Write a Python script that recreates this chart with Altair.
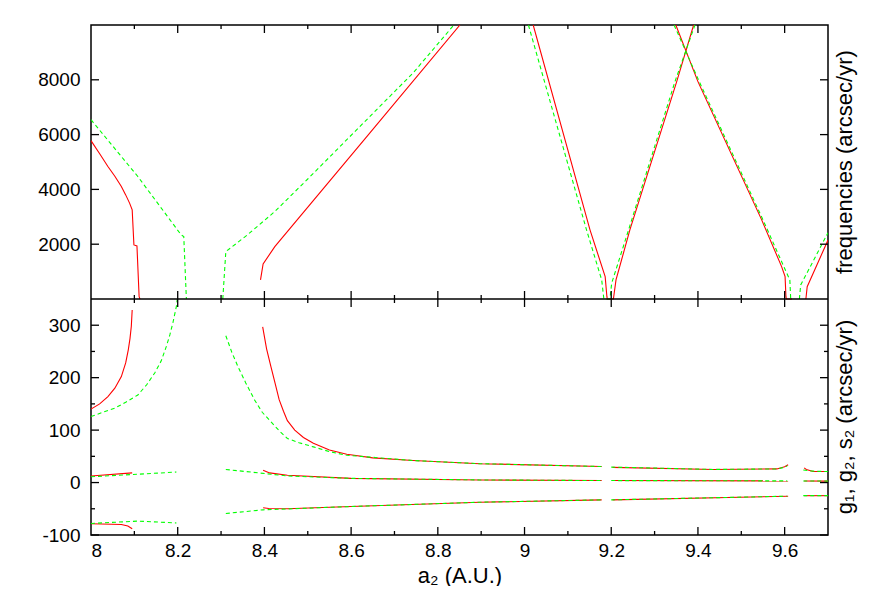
import altair as alt
import pandas as pd

# ---------------- layout constants ----------------
W = 737
H_TOP = 274
H_BOT = 236
H = H_TOP + H_BOT
FONT = "Liberation Sans"
FS = 19
FS_TITLE = 22

# ---------------- axes ----------------
X_DOMAIN = [8.0, 9.7]
TOP_Y_DOMAIN = [0, 10000]
BOT_Y_DOMAIN = [-100, 350]
X_MAJOR = [8.0, 8.2, 8.4, 8.6, 8.8, 9.0, 9.2, 9.4, 9.6]
X_MINOR = [8.1, 8.3, 8.5, 8.7, 8.9, 9.1, 9.3, 9.5]
TOP_Y_MAJOR = [2000, 4000, 6000, 8000]
BOT_Y_MAJOR = [-100, 0, 100, 200, 300]
BOT_Y_MINOR = [-50, 50, 150, 250]

X_TITLE = "a\u2082 (A.U.)"
TOP_TITLE = "frequencies (arcsec/yr)"
BOT_TITLE = "g\u2081, g\u2082, s\u2082 (arcsec/yr)"

# ---------------- top panel data (frequencies) ----------------
top_red_a_x = [8.0, 8.02, 8.039, 8.055, 8.07, 8.08, 8.089, 8.095, 8.099, 8.106, 8.111, 8.113]
top_red_a_y = [5780, 5300, 4837, 4480, 4106, 3800, 3499, 3254, 1974, 1938, 84, 0]
top_red_b_x = [8.391, 8.397, 8.424, 8.64, 8.851]
top_red_b_y = [695, 1280, 1912, 6000, 10000]
top_red_v_x = [9.02, 9.151, 9.186, 9.19, 9.191, 9.205, 9.211, 9.243, 9.351, 9.39]
top_red_v_y = [10000, 2523, 816, 84, 0, 0, 695, 2523, 7934, 10000]
top_red_d_x = [9.349, 9.4, 9.547, 9.593, 9.601, 9.603, 9.604, 9.617]
top_red_d_y = [10000, 7934, 2888, 1182, 816, 84, 0, 0]
top_red_r_x = [9.649, 9.652, 9.70]
top_red_r_y = [0, 450, 2150]

top_green_a_x = [8.0, 8.108, 8.208, 8.214, 8.22]
top_green_a_y = [6544, 4471, 2340, 2278, 0]
top_green_b_x = [8.304, 8.311, 8.36, 8.424, 8.5, 8.59, 8.743, 8.837]
top_green_b_y = [0, 1730, 2330, 3192, 4380, 5813, 8251, 10000]
top_green_v_x = [9.009, 9.143, 9.178, 9.183, 9.197, 9.201, 9.24, 9.347, 9.393]
top_green_v_y = [10000, 2523, 695, 0, 0, 573, 2523, 7934, 10000]
top_green_d_x = [9.345, 9.403, 9.55, 9.605, 9.612, 9.614]
top_green_d_y = [10000, 7934, 2888, 938, 695, 0]
top_green_r_x = [9.634, 9.637, 9.70]
top_green_r_y = [0, 512, 2420]

# ---------------- bottom panel data (g1, g2, s2) ----------------
bot_red_u1_x = [8.0, 8.02, 8.039, 8.055, 8.07, 8.08, 8.086, 8.09, 8.093, 8.095]
bot_red_u1_y = [140, 150, 164, 180, 202, 228, 253, 275, 298, 329]
bot_red_u2_x = [8.396, 8.405, 8.415, 8.425, 8.434, 8.444, 8.453, 8.47, 8.49, 8.513,
                8.55, 8.59, 8.65, 8.743, 8.897, 9.178]
bot_red_u2_y = [297, 255, 221, 188, 158, 136, 118, 100, 86, 75, 62, 54, 47, 42, 36, 30.5]
bot_red_u3_x = [9.203, 9.436, 9.582, 9.60, 9.608]
bot_red_u3_y = [29, 25, 26, 30, 34]
bot_red_u4_x = [9.645, 9.65, 9.666, 9.70]
bot_red_u4_y = [28, 25, 21, 21]
bot_red_m1_x = [8.0, 8.095]
bot_red_m1_y = [12.6, 18.4]
bot_red_m2_x = [8.397, 8.412, 8.453, 8.6, 8.897, 9.178]
bot_red_m2_y = [23.5, 18.4, 14, 8, 5, 3.8]
bot_red_m3_x = [9.203, 9.608]
bot_red_m3_y = [3.8, 3.2]
bot_red_m4_x = [9.645, 9.70]
bot_red_m4_y = [3.0, 2.8]
bot_red_l1_x = [8.0, 8.07, 8.085, 8.095]
bot_red_l1_y = [-78.5, -80, -83, -88]
bot_red_l2_x = [8.397, 8.41, 8.453, 8.6, 8.897, 9.178]
bot_red_l2_y = [-48, -49.5, -50, -45.7, -37.5, -33]
bot_red_l3_x = [9.203, 9.608]
bot_red_l3_y = [-33, -26]
bot_red_l4_x = [9.645, 9.70]
bot_red_l4_y = [-25, -25]

bot_green_u1_x = [8.0, 8.055, 8.08, 8.108, 8.128, 8.147, 8.162, 8.174, 8.182, 8.189, 8.197, 8.199]
bot_green_u1_y = [126, 142, 153, 167, 186, 209, 232, 260, 282, 305, 336, 350]
bot_green_u2_x = [8.311, 8.325, 8.339, 8.357, 8.377, 8.395, 8.415, 8.435, 8.453, 8.48,
                  8.513, 8.55, 8.59, 8.743, 8.897, 9.178]
bot_green_u2_y = [280, 248, 221, 190, 158, 134, 116, 98, 84, 76, 68, 59, 52, 42, 36, 30.5]
bot_green_u3_x = [9.2, 9.436, 9.582, 9.6, 9.606]
bot_green_u3_y = [29.5, 25, 26, 29, 32]
bot_green_u4_x = [9.643, 9.66, 9.70]
bot_green_u4_y = [24, 22, 21]
bot_green_m1_x = [8.0, 8.197]
bot_green_m1_y = [11, 20]
bot_green_m2_x = [8.311, 8.453, 8.6, 8.897, 9.178]
bot_green_m2_y = [25, 12.6, 8, 5, 3.8]
bot_green_m3_x = [9.2, 9.606]
bot_green_m3_y = [3.8, 3.2]
bot_green_m4_x = [9.643, 9.70]
bot_green_m4_y = [3.0, 2.8]
bot_green_l1_x = [8.0, 8.108, 8.197]
bot_green_l1_y = [-78, -73.5, -77]
bot_green_l2_x = [8.311, 8.397, 8.6, 8.897, 9.178]
bot_green_l2_y = [-59, -52, -45.7, -37.5, -33]
bot_green_l3_x = [9.2, 9.606]
bot_green_l3_y = [-33, -26]
bot_green_l4_x = [9.643, 9.70]
bot_green_l4_y = [-25, -25]


def to_df(segs):
    rows = []
    for name, xs_, ys_ in segs:
        for i, (x, y) in enumerate(zip(xs_, ys_)):
            rows.append({"seg": name, "x": x, "y": y, "o": i})
    return pd.DataFrame(rows)


top_red = to_df([
    ("a", top_red_a_x, top_red_a_y), ("b", top_red_b_x, top_red_b_y),
    ("v", top_red_v_x, top_red_v_y), ("d", top_red_d_x, top_red_d_y),
    ("r", top_red_r_x, top_red_r_y),
])
top_green = to_df([
    ("a", top_green_a_x, top_green_a_y), ("b", top_green_b_x, top_green_b_y),
    ("v", top_green_v_x, top_green_v_y), ("d", top_green_d_x, top_green_d_y),
    ("r", top_green_r_x, top_green_r_y),
])
bot_red = to_df([
    ("u1", bot_red_u1_x, bot_red_u1_y), ("u2", bot_red_u2_x, bot_red_u2_y),
    ("u3", bot_red_u3_x, bot_red_u3_y), ("u4", bot_red_u4_x, bot_red_u4_y),
    ("m1", bot_red_m1_x, bot_red_m1_y), ("m2", bot_red_m2_x, bot_red_m2_y),
    ("m3", bot_red_m3_x, bot_red_m3_y), ("m4", bot_red_m4_x, bot_red_m4_y),
    ("l1", bot_red_l1_x, bot_red_l1_y), ("l2", bot_red_l2_x, bot_red_l2_y),
    ("l3", bot_red_l3_x, bot_red_l3_y), ("l4", bot_red_l4_x, bot_red_l4_y),
])
bot_green = to_df([
    ("u1", bot_green_u1_x, bot_green_u1_y), ("u2", bot_green_u2_x, bot_green_u2_y),
    ("u3", bot_green_u3_x, bot_green_u3_y), ("u4", bot_green_u4_x, bot_green_u4_y),
    ("m1", bot_green_m1_x, bot_green_m1_y), ("m2", bot_green_m2_x, bot_green_m2_y),
    ("m3", bot_green_m3_x, bot_green_m3_y), ("m4", bot_green_m4_x, bot_green_m4_y),
    ("l1", bot_green_l1_x, bot_green_l1_y), ("l2", bot_green_l2_x, bot_green_l2_y),
    ("l3", bot_green_l3_x, bot_green_l3_y), ("l4", bot_green_l4_x, bot_green_l4_y),
])

LABEL_EXPR = "'' + datum.value"

# scales: shared x, one y scale per panel (stacked ranges inside one plot)
xs = alt.Scale(domain=X_DOMAIN, nice=False, zero=False)
ys_top = alt.Scale(domain=TOP_Y_DOMAIN, range=[H_TOP, 0], nice=False, zero=False)
ys_bot = alt.Scale(domain=BOT_Y_DOMAIN, range=[H, H_TOP], nice=False, zero=False)

xaxis = alt.Axis(values=X_MAJOR, labelExpr=LABEL_EXPR, title=X_TITLE,
                 labelPadding=6, titlePadding=5, titleFontSize=FS_TITLE)
yaxis_top = alt.Axis(values=TOP_Y_MAJOR, labelExpr=LABEL_EXPR, title=None, orient="left",
                     labelPadding=11, minExtent=78, maxExtent=78)
yaxis_bot = alt.Axis(values=BOT_Y_MAJOR, labelExpr=LABEL_EXPR, title=None, orient="left",
                     labelPadding=11, minExtent=78, maxExtent=78)


def X():
    return alt.X("x:Q", scale=xs, axis=xaxis)


def line(df, color, ys, yaxis, dashed):
    kw = dict(color=color, strokeWidth=1.1, clip=True)
    if dashed:
        kw["strokeDash"] = [4, 3]
    return alt.Chart(df).mark_line(**kw).encode(
        x=X(), y=alt.Y("y:Q", scale=ys, axis=yaxis),
        detail="seg:N", order="o:Q")


layers = [
    line(top_red, "#ff0000", ys_top, yaxis_top, False),
    line(top_green, "#00ff00", ys_top, None, True),
    line(bot_red, "#ff0000", ys_bot, yaxis_bot, False),
    line(bot_green, "#00ff00", ys_bot, None, True),
]

# boundary between the two panels
layers.append(alt.Chart(pd.DataFrame({"b": [0]})).mark_rule(color="black", strokeWidth=1.5).encode(
    x=alt.value(0), x2=alt.value(W), y=alt.value(H_TOP)))


def xticks(vals, ln):
    d = pd.DataFrame({"x": vals})
    b = alt.Chart(d).mark_rule(color="black", strokeWidth=1.3)
    return [b.encode(x=X(), y=alt.value(0), y2=alt.value(ln)),
            b.encode(x=X(), y=alt.value(H_TOP), y2=alt.value(H_TOP - ln)),
            b.encode(x=X(), y=alt.value(H_TOP), y2=alt.value(H_TOP + ln)),
            b.encode(x=X(), y=alt.value(H), y2=alt.value(H - ln))]


def yticks(vals, ys, ln):
    d = pd.DataFrame({"y": vals})
    b = alt.Chart(d).mark_rule(color="black", strokeWidth=1.3)
    ye = alt.Y("y:Q", scale=ys, axis=None)
    return [b.encode(y=ye, x=alt.value(0), x2=alt.value(ln)),
            b.encode(y=ye, x=alt.value(W), x2=alt.value(W - ln))]


layers += xticks(X_MAJOR[1:], 8)
layers += xticks(X_MINOR, 4)
layers += yticks(TOP_Y_MAJOR, ys_top, 8)
layers += yticks(BOT_Y_MAJOR, ys_bot, 8)
layers += yticks(BOT_Y_MINOR, ys_bot, 4)


def side_title(text, ymid):
    return alt.Chart(pd.DataFrame({"t": [text]})).mark_text(
        angle=270, font=FONT, fontSize=FS_TITLE, color="black",
        align="center", baseline="middle").encode(
        text="t:N", x=alt.value(W + 17), y=alt.value(ymid))


layers.append(side_title(TOP_TITLE, H_TOP / 2))
layers.append(side_title(BOT_TITLE, H_TOP + H_BOT / 2))

chart = alt.layer(*layers).resolve_scale(y="independent").properties(
    width=W, height=H,
    padding={"left": 5, "top": 16, "right": 2, "bottom": 0}
).configure_view(
    stroke="black", strokeWidth=1.5
).configure_axis(
    labelFont=FONT, labelFontSize=FS, labelColor="black",
    titleFont=FONT, titleFontSize=FS_TITLE, titleColor="black", titleFontWeight="normal",
    domain=False, ticks=False, tickSize=0, grid=False
)

chart.save("out.html", embed_options={"renderer": "svg", "actions": False})
